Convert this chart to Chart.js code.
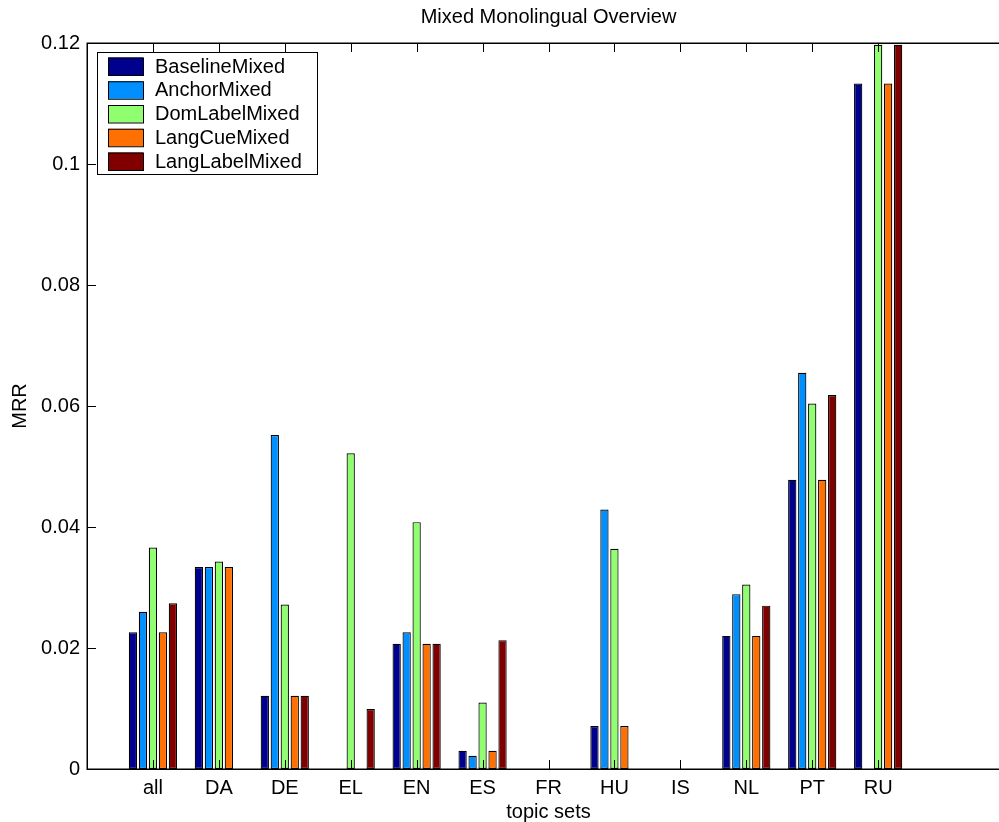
<!DOCTYPE html>
<html>
<head>
<meta charset="utf-8">
<title>Mixed Monolingual Overview</title>
<script src="https://cdn.jsdelivr.net/npm/chart.js@4/dist/chart.umd.min.js"></script>
<style>
  html, body { margin: 0; padding: 0; background: #fff; overflow: hidden; }
  #wrap { width: 1012px; height: 822px; }
</style>
</head>
<body>
<div id="wrap"><canvas id="myChart" width="1012" height="822"></canvas></div>
<script>
var categories = ['all', 'DA', 'DE', 'EL', 'EN', 'ES', 'FR', 'HU', 'IS', 'NL', 'PT', 'RU'];

var baselineMixed  = [0.0226, 0.0334, 0.0121, 0,      0.0207, 0.0030, 0, 0.0071, 0, 0.0220, 0.0478, 0.1133];
var anchorMixed    = [0.0260, 0.0334, 0.0552, 0,      0.0226, 0.0022, 0, 0.0429, 0, 0.0289, 0.0655, 0];
var domLabelMixed  = [0.0366, 0.0343, 0.0272, 0.0522, 0.0408, 0.0110, 0, 0.0364, 0, 0.0305, 0.0604, 0.1197];
var langCueMixed   = [0.0226, 0.0334, 0.0121, 0,      0.0207, 0.0030, 0, 0.0071, 0, 0.0220, 0.0478, 0.1133];
var langLabelMixed = [0.0274, 0,      0.0121, 0.0099, 0.0207, 0.0213, 0, 0,      0, 0.0270, 0.0618, 0.1197];

var yTicks = [0, 0.02, 0.04, 0.06, 0.08, 0.1, 0.12];

var font = 'Liberation Sans, Helvetica, Arial, sans-serif';

function points(values) {
  return values.map(function(v, i) {
    return {x: i + 1, y: v};
  });
}

// matlab style box with inward ticks
var boxPlugin = {
  id: 'box',
  afterDatasetsDraw: function(chart) {
    var ctx = chart.ctx;
    var a = chart.chartArea;
    var xs = chart.scales.x;
    var ys = chart.scales.y;
    ctx.save();
    ctx.strokeStyle = '#000';
    ctx.lineWidth = 1;
    ctx.beginPath();
    yTicks.forEach(function(t) {
      var py = Math.round(ys.getPixelForValue(t)) + 0.5;
      ctx.moveTo(a.left, py);
      ctx.lineTo(a.left + 9, py);
    });
    categories.forEach(function(c, i) {
      var px = Math.round(xs.getPixelForValue(i + 1)) + 0.5;
      ctx.moveTo(px, a.bottom);
      ctx.lineTo(px, a.bottom - 9);
      ctx.moveTo(px, a.top);
      ctx.lineTo(px, a.top + 9);
    });
    ctx.stroke();
    ctx.lineWidth = 1.5;
    ctx.strokeRect(Math.round(a.left) + 0.25, Math.round(a.top) + 0.25, a.right - a.left, a.bottom - a.top);
    ctx.restore();
  }
};

// legend sits inside the axes, top left
var boxLegend = {
  id: 'boxLegend',
  afterDraw: function(chart) {
    var ctx = chart.ctx;
    var sets = chart.data.datasets;
    var x0 = 97, y0 = 52, w = 220, h = 122;
    ctx.save();
    ctx.fillStyle = '#fff';
    ctx.fillRect(x0, y0, w, h);
    ctx.strokeStyle = '#000';
    ctx.lineWidth = 1;
    ctx.strokeRect(x0 + 0.5, y0 + 0.5, w, h);
    ctx.font = '20px ' + font;
    ctx.textBaseline = 'middle';
    ctx.textAlign = 'left';
    sets.forEach(function(ds, i) {
      var top = y0 + 5.5 + i * 23.75;
      ctx.fillStyle = ds.backgroundColor;
      ctx.fillRect(x0 + 11, top, 35, 17.5);
      ctx.strokeStyle = '#000';
      ctx.strokeRect(x0 + 11.5, top + 0.5, 35, 17.5);
      ctx.fillStyle = '#000';
      ctx.fillText(ds.label, x0 + 58, top + 9.5);
    });
    ctx.restore();
  }
};

Chart.defaults.color = '#000';
Chart.defaults.font.family = font;
Chart.defaults.font.size = 20;

var ctx = document.getElementById('myChart').getContext('2d');
var config = {
  type: 'bar',
  data: {
    datasets: [
      {label: 'BaselineMixed',  data: points(baselineMixed),  backgroundColor: '#00008F'},
      {label: 'AnchorMixed',    data: points(anchorMixed),    backgroundColor: '#008FFF'},
      {label: 'DomLabelMixed',  data: points(domLabelMixed),  backgroundColor: '#8FFF70'},
      {label: 'LangCueMixed',   data: points(langCueMixed),   backgroundColor: '#FF7000'},
      {label: 'LangLabelMixed', data: points(langLabelMixed), backgroundColor: '#800000'}
    ]
  },
  options: {
    responsive: false,
    animation: false,
    layout: {padding: {left: 0, right: 2, top: 0, bottom: 0}},
    datasets: {
      bar: {
        borderColor: '#000',
        borderWidth: 1.2,
        borderSkipped: false,
        categoryPercentage: 0.757,
        barPercentage: 0.83
      }
    },
    plugins: {
      legend: {display: false},
      tooltip: {enabled: false},
      title: {
        display: true,
        text: 'Mixed Monolingual Overview',
        fullSize: false,
        color: '#000',
        font: {size: 20, weight: 'normal', lineHeight: 1.2},
        padding: {top: 5, bottom: 14}
      }
    },
    scales: {
      x: {
        type: 'linear',
        offset: false,
        min: 0,
        max: 14,
        grid: {display: false, drawTicks: false, offset: false},
        border: {display: false},
        afterFit: function(s) { s.height = 53; },
        afterBuildTicks: function(s) {
          s.ticks = categories.map(function(c, i) { return {value: i + 1}; });
        },
        ticks: {
          padding: 7,
          maxRotation: 0,
          autoSkip: false,
          callback: function(v) { return categories[v - 1] || ''; }
        },
        title: {
          display: true,
          text: 'topic sets',
          font: {size: 20, lineHeight: 1},
          padding: {top: 0, bottom: 0}
        }
      },
      y: {
        min: 0,
        max: 0.12,
        grid: {display: false, drawTicks: false},
        border: {display: false},
        afterFit: function(s) { s.width = 87; },
        afterBuildTicks: function(s) {
          s.ticks = yTicks.map(function(t) { return {value: t}; });
        },
        ticks: {
          padding: 7,
          callback: function(v) { return String(+v.toFixed(2)); }
        },
        title: {
          display: true,
          text: 'MRR',
          font: {size: 20, lineHeight: 1.2},
          padding: {top: 8, bottom: 0}
        }
      }
    }
  },
  plugins: [boxPlugin, boxLegend]
};

var chart = new Chart(ctx, config);
</script>
</body>
</html>
